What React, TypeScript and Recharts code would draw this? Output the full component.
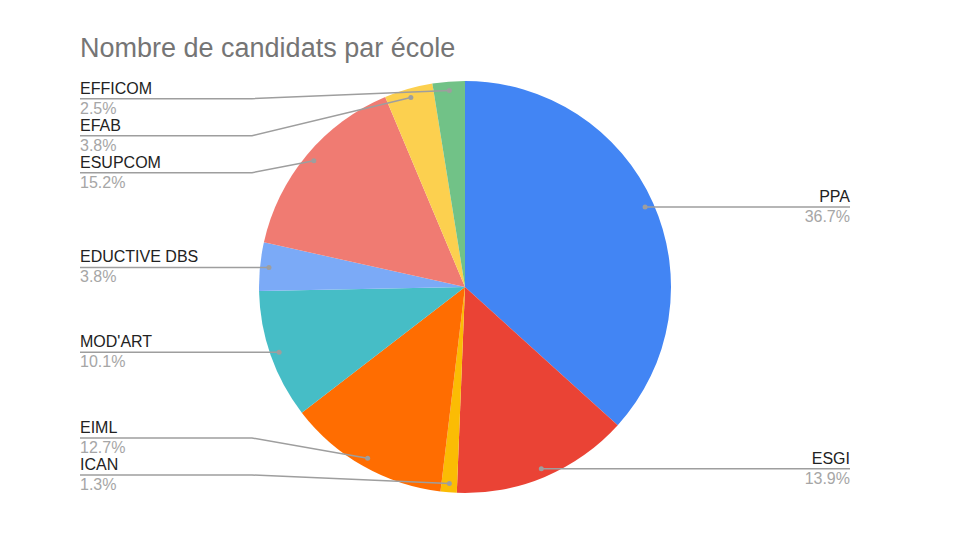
import * as React from 'react';
import { PieChart, Pie, Cell } from 'recharts';

const title = 'Nombre de candidats par école';
const schools = ['PPA', 'ESGI', 'ICAN', 'EIML', "MOD'ART", 'EDUCTIVE DBS', 'ESUPCOM', 'EFAB', 'EFFICOM'];
const candidates = [29, 11, 1, 10, 8, 3, 12, 3, 2];
const colors = ['#4285f4', '#ea4335', '#fbbc04', '#ff6d01', '#46bdc6', '#7baaf7', '#f07b72', '#fcd04f', '#71c287'];

const CX = 465;
const CY = 287;
const R = 206;
const DOT_R = R - 9;
const LEFT_X = 80;
const RIGHT_X = 850;
const ELBOW_DX = 213;
const GAP = 37;
const Y_MIN = 98.7;
const Y_MAX = 475;
const RAD = Math.PI / 180;
const FONT = '"Liberation Sans", Arial, sans-serif';

const total = candidates.reduce((a, b) => a + b, 0);

// same angle maths the pie uses, only needed to keep labels from overlapping
function layoutLabels(): number[] {
    let cum = 0;
    const items = candidates.map((v, i) => {
        const mid = 90 - ((cum + v / 2) / total) * 360;
        cum += v;
        const x = CX + Math.cos(-mid * RAD) * DOT_R;
        const y = CY + Math.sin(-mid * RAD) * DOT_R;
        return { i, left: x < CX, y };
    });
    const out: number[] = new Array(candidates.length).fill(0);
    [true, false].forEach((side) => {
        const group = items.filter((it) => it.left === side).sort((a, b) => a.y - b.y);
        const ys = group.map((g) => Math.min(Y_MAX, Math.max(Y_MIN, g.y)));
        for (let k = 1; k < ys.length; k++) ys[k] = Math.max(ys[k], ys[k - 1] + GAP);
        if (ys.length) ys[ys.length - 1] = Math.min(ys[ys.length - 1], Y_MAX);
        for (let k = ys.length - 2; k >= 0; k--) ys[k] = Math.min(ys[k], ys[k + 1] - GAP);
        group.forEach((g, k) => (out[g.i] = ys[k]));
    });
    return out;
}

const labelY = layoutLabels();

const renderLabel = (props: any) => {
    const { cx, cy, midAngle, outerRadius, index, name, percent } = props;
    const r = outerRadius - 9;
    const dx = cx + Math.cos(-midAngle * RAD) * r;
    const dy = cy + Math.sin(-midAngle * RAD) * r;
    const left = dx < cx;
    const ly = labelY[index];
    const tx = left ? LEFT_X : RIGHT_X;
    const ex = left ? cx - ELBOW_DX : cx + ELBOW_DX;
    const anchor = left ? 'start' : 'end';
    return (
        <g key={'lbl' + index}>
            <polyline points={`${tx},${ly} ${ex},${ly} ${dx},${dy}`} fill="none" stroke="#9e9e9e" strokeWidth={1.5} />
            <circle cx={dx} cy={dy} r={2.5} fill="#9e9e9e" />
            <text x={tx} y={ly - 5} textAnchor={anchor} fontFamily={FONT} fontSize={16} fill="#222222">
                {name}
            </text>
            <text x={tx} y={ly + 15} textAnchor={anchor} fontFamily={FONT} fontSize={16} fill="#a6a6a6">
                {(percent * 100).toFixed(1) + '%'}
            </text>
        </g>
    );
};

export default function App() {
    const data = schools.map((s, i) => ({ name: s, value: candidates[i] }));
    return (
        <div style={{ position: 'absolute', left: 0, top: 0, width: 960, height: 540, background: '#fff' }}>
            <PieChart width={960} height={540} margin={{ top: 0, right: 0, bottom: 0, left: 0 }}>
                <Pie
                    data={data}
                    dataKey="value"
                    nameKey="name"
                    cx={CX}
                    cy={CY}
                    outerRadius={R}
                    startAngle={90}
                    endAngle={-270}
                    stroke="none"
                    label={renderLabel}
                    labelLine={false}
                    isAnimationActive={false}
                >
                    {data.map((d, i) => (
                        <Cell key={d.name} fill={colors[i]} />
                    ))}
                </Pie>
            </PieChart>
            <svg width={960} height={80} style={{ position: 'absolute', left: 0, top: 0, pointerEvents: 'none' }}>
                <text x={80} y={57} fontFamily={FONT} fontSize={27} fill="#757575">
                    {title}
                </text>
            </svg>
        </div>
    );
}
